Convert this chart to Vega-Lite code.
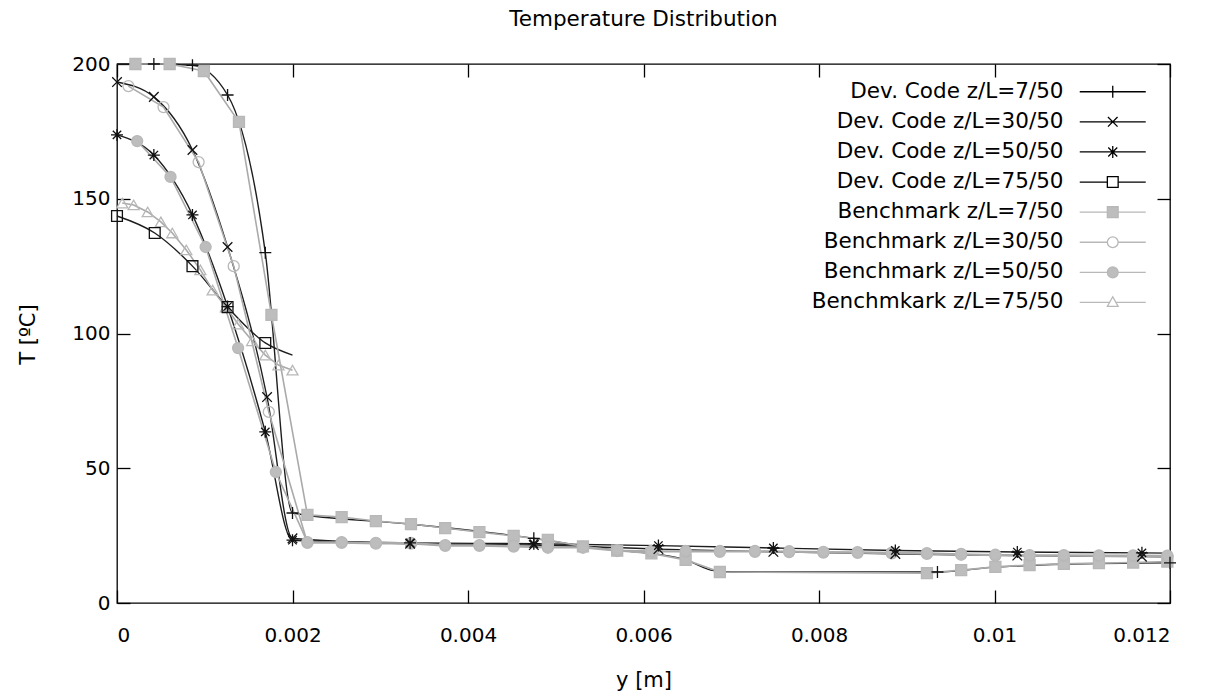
{
  "$schema": "https://vega.github.io/schema/vega-lite/v6.json",
  "width": 1053,
  "height": 539,
  "autosize": "none",
  "padding": {"left": 117, "top": 64, "right": 44, "bottom": 94},
  "background": "white",
  "title": {"text": "Temperature Distribution", "fontSize": 21.5, "font": "DejaVu Sans", "fontWeight": "normal", "anchor": "middle", "frame": "group", "offset": 24, "color": "black"},
  "config": {
    "view": {"stroke": "black", "strokeWidth": 1.3},
    "font": "DejaVu Sans",
    "axis": {"grid": false, "domain": false, "tickColor": "black", "tickSize": -13, "tickWidth": 1.3, "labelFont": "DejaVu Sans", "labelFontSize": 20, "labelColor": "black", "titleFont": "DejaVu Sans", "titleFontSize": 21, "titleFontWeight": "normal", "titleColor": "black"},
    "legend": {"title": null, "orient": "none", "legendX": 985, "legendY": 17, "labelAlign": "right", "labelOffset": -60, "labelFontSize": 21.5, "labelFont": "DejaVu Sans", "labelColor": "black", "labelLimit": 500, "labelBaseline": "middle", "rowPadding": 7.1, "symbolSize": 144, "symbolStrokeWidth": 1.3, "symbolOpacity": 1}
  },
  "datasets": {
    "devCurve": [
      {"series": "Dev. Code z/L=7/50", "ym": 0, "T": 200},
      {"series": "Dev. Code z/L=7/50", "ym": 0.00042, "T": 200},
      {"series": "Dev. Code z/L=7/50", "ym": 0.00086, "T": 199.5},
      {"series": "Dev. Code z/L=7/50", "ym": 0.00126, "T": 188.5},
      {"series": "Dev. Code z/L=7/50", "ym": 0.00169, "T": 130},
      {"series": "Dev. Code z/L=7/50", "ym": 0.002, "T": 33.4},
      {"series": "Dev. Code z/L=7/50", "ym": 0.0033, "T": 29.4},
      {"series": "Dev. Code z/L=7/50", "ym": 0.00475, "T": 24},
      {"series": "Dev. Code z/L=7/50", "ym": 0.00531, "T": 21.2},
      {"series": "Dev. Code z/L=7/50", "ym": 0.0057, "T": 19.6},
      {"series": "Dev. Code z/L=7/50", "ym": 0.00609, "T": 18.4},
      {"series": "Dev. Code z/L=7/50", "ym": 0.00648, "T": 16},
      {"series": "Dev. Code z/L=7/50", "ym": 0.0068, "T": 12},
      {"series": "Dev. Code z/L=7/50", "ym": 0.007, "T": 11.5},
      {"series": "Dev. Code z/L=7/50", "ym": 0.00935, "T": 11.5},
      {"series": "Dev. Code z/L=7/50", "ym": 0.01, "T": 13.3},
      {"series": "Dev. Code z/L=7/50", "ym": 0.0108, "T": 14.4},
      {"series": "Dev. Code z/L=7/50", "ym": 0.012, "T": 14.9},
      {"series": "Dev. Code z/L=30/50", "ym": 0, "T": 193.3},
      {"series": "Dev. Code z/L=30/50", "ym": 0.00042, "T": 187.8},
      {"series": "Dev. Code z/L=30/50", "ym": 0.00086, "T": 168.1},
      {"series": "Dev. Code z/L=30/50", "ym": 0.00126, "T": 132.1},
      {"series": "Dev. Code z/L=30/50", "ym": 0.00171, "T": 76.4},
      {"series": "Dev. Code z/L=30/50", "ym": 0.002, "T": 24},
      {"series": "Dev. Code z/L=30/50", "ym": 0.00334, "T": 22},
      {"series": "Dev. Code z/L=30/50", "ym": 0.00475, "T": 21.5},
      {"series": "Dev. Code z/L=30/50", "ym": 0.00617, "T": 20},
      {"series": "Dev. Code z/L=30/50", "ym": 0.00748, "T": 19},
      {"series": "Dev. Code z/L=30/50", "ym": 0.00887, "T": 18.2},
      {"series": "Dev. Code z/L=30/50", "ym": 0.01026, "T": 17.6},
      {"series": "Dev. Code z/L=30/50", "ym": 0.01168, "T": 17.2},
      {"series": "Dev. Code z/L=30/50", "ym": 0.012, "T": 17.1},
      {"series": "Dev. Code z/L=50/50", "ym": 0, "T": 173.7},
      {"series": "Dev. Code z/L=50/50", "ym": 0.00042, "T": 166.2},
      {"series": "Dev. Code z/L=50/50", "ym": 0.00086, "T": 144},
      {"series": "Dev. Code z/L=50/50", "ym": 0.00126, "T": 110},
      {"series": "Dev. Code z/L=50/50", "ym": 0.00169, "T": 63.5},
      {"series": "Dev. Code z/L=50/50", "ym": 0.002, "T": 23.3},
      {"series": "Dev. Code z/L=50/50", "ym": 0.00334, "T": 22.3},
      {"series": "Dev. Code z/L=50/50", "ym": 0.00475, "T": 22},
      {"series": "Dev. Code z/L=50/50", "ym": 0.00617, "T": 21.3},
      {"series": "Dev. Code z/L=50/50", "ym": 0.00748, "T": 20.4},
      {"series": "Dev. Code z/L=50/50", "ym": 0.00887, "T": 19.5},
      {"series": "Dev. Code z/L=50/50", "ym": 0.01026, "T": 18.9},
      {"series": "Dev. Code z/L=50/50", "ym": 0.01168, "T": 18.6},
      {"series": "Dev. Code z/L=50/50", "ym": 0.012, "T": 18.5},
      {"series": "Dev. Code z/L=75/50", "ym": 0, "T": 143.6},
      {"series": "Dev. Code z/L=75/50", "ym": 0.00043, "T": 137.3},
      {"series": "Dev. Code z/L=75/50", "ym": 0.00086, "T": 125},
      {"series": "Dev. Code z/L=75/50", "ym": 0.00126, "T": 109.8},
      {"series": "Dev. Code z/L=75/50", "ym": 0.00169, "T": 96.5},
      {"series": "Dev. Code z/L=75/50", "ym": 0.002, "T": 92}
    ],
    "devMarks": [
      {"series": "Dev. Code z/L=7/50", "ym": 0.00042, "T": 200},
      {"series": "Dev. Code z/L=7/50", "ym": 0.00086, "T": 199.5},
      {"series": "Dev. Code z/L=7/50", "ym": 0.00126, "T": 188.5},
      {"series": "Dev. Code z/L=7/50", "ym": 0.00169, "T": 130},
      {"series": "Dev. Code z/L=7/50", "ym": 0.002, "T": 33.4},
      {"series": "Dev. Code z/L=7/50", "ym": 0.00475, "T": 24},
      {"series": "Dev. Code z/L=7/50", "ym": 0.00935, "T": 11.5},
      {"series": "Dev. Code z/L=7/50", "ym": 0.012, "T": 14.9},
      {"series": "Dev. Code z/L=30/50", "ym": 0, "T": 193.3},
      {"series": "Dev. Code z/L=30/50", "ym": 0.00042, "T": 187.8},
      {"series": "Dev. Code z/L=30/50", "ym": 0.00086, "T": 168.1},
      {"series": "Dev. Code z/L=30/50", "ym": 0.00126, "T": 132.1},
      {"series": "Dev. Code z/L=30/50", "ym": 0.00171, "T": 76.4},
      {"series": "Dev. Code z/L=30/50", "ym": 0.002, "T": 24},
      {"series": "Dev. Code z/L=30/50", "ym": 0.00334, "T": 22},
      {"series": "Dev. Code z/L=30/50", "ym": 0.00475, "T": 21.5},
      {"series": "Dev. Code z/L=30/50", "ym": 0.00617, "T": 20},
      {"series": "Dev. Code z/L=30/50", "ym": 0.00748, "T": 19},
      {"series": "Dev. Code z/L=30/50", "ym": 0.00887, "T": 18.2},
      {"series": "Dev. Code z/L=30/50", "ym": 0.01026, "T": 17.6},
      {"series": "Dev. Code z/L=30/50", "ym": 0.01168, "T": 17.2},
      {"series": "Dev. Code z/L=50/50", "ym": 0, "T": 173.7},
      {"series": "Dev. Code z/L=50/50", "ym": 0.00042, "T": 166.2},
      {"series": "Dev. Code z/L=50/50", "ym": 0.00086, "T": 144},
      {"series": "Dev. Code z/L=50/50", "ym": 0.00126, "T": 110},
      {"series": "Dev. Code z/L=50/50", "ym": 0.00169, "T": 63.5},
      {"series": "Dev. Code z/L=50/50", "ym": 0.002, "T": 23.3},
      {"series": "Dev. Code z/L=50/50", "ym": 0.00334, "T": 22.3},
      {"series": "Dev. Code z/L=50/50", "ym": 0.00475, "T": 22},
      {"series": "Dev. Code z/L=50/50", "ym": 0.00617, "T": 21.3},
      {"series": "Dev. Code z/L=50/50", "ym": 0.00748, "T": 20.4},
      {"series": "Dev. Code z/L=50/50", "ym": 0.00887, "T": 19.5},
      {"series": "Dev. Code z/L=50/50", "ym": 0.01026, "T": 18.9},
      {"series": "Dev. Code z/L=50/50", "ym": 0.01168, "T": 18.6},
      {"series": "Dev. Code z/L=75/50", "ym": 0, "T": 143.6},
      {"series": "Dev. Code z/L=75/50", "ym": 0.00043, "T": 137.3},
      {"series": "Dev. Code z/L=75/50", "ym": 0.00086, "T": 125},
      {"series": "Dev. Code z/L=75/50", "ym": 0.00126, "T": 109.8},
      {"series": "Dev. Code z/L=75/50", "ym": 0.00169, "T": 96.5}
    ],
    "bench": [
      {"series": "Benchmark z/L=7/50", "ym": 0.00021, "T": 200},
      {"series": "Benchmark z/L=7/50", "ym": 0.0006, "T": 200},
      {"series": "Benchmark z/L=7/50", "ym": 0.00099, "T": 197.4},
      {"series": "Benchmark z/L=7/50", "ym": 0.00139, "T": 178.5},
      {"series": "Benchmark z/L=7/50", "ym": 0.00176, "T": 106.9},
      {"series": "Benchmark z/L=7/50", "ym": 0.00217, "T": 32.7},
      {"series": "Benchmark z/L=7/50", "ym": 0.00256, "T": 31.9},
      {"series": "Benchmark z/L=7/50", "ym": 0.00295, "T": 30.4},
      {"series": "Benchmark z/L=7/50", "ym": 0.00335, "T": 29.3},
      {"series": "Benchmark z/L=7/50", "ym": 0.00374, "T": 27.8},
      {"series": "Benchmark z/L=7/50", "ym": 0.00413, "T": 26.3},
      {"series": "Benchmark z/L=7/50", "ym": 0.00452, "T": 24.9},
      {"series": "Benchmark z/L=7/50", "ym": 0.00491, "T": 23.4},
      {"series": "Benchmark z/L=7/50", "ym": 0.00531, "T": 21},
      {"series": "Benchmark z/L=7/50", "ym": 0.0057, "T": 19.4},
      {"series": "Benchmark z/L=7/50", "ym": 0.00609, "T": 18.4},
      {"series": "Benchmark z/L=7/50", "ym": 0.00648, "T": 16},
      {"series": "Benchmark z/L=7/50", "ym": 0.00687, "T": 11.5},
      {"series": "Benchmark z/L=7/50", "ym": 0.00923, "T": 11.1},
      {"series": "Benchmark z/L=7/50", "ym": 0.00962, "T": 12.2},
      {"series": "Benchmark z/L=7/50", "ym": 0.01001, "T": 13.4},
      {"series": "Benchmark z/L=7/50", "ym": 0.0104, "T": 14.1},
      {"series": "Benchmark z/L=7/50", "ym": 0.01079, "T": 14.5},
      {"series": "Benchmark z/L=7/50", "ym": 0.01119, "T": 14.8},
      {"series": "Benchmark z/L=7/50", "ym": 0.01158, "T": 15},
      {"series": "Benchmark z/L=7/50", "ym": 0.01197, "T": 15.4},
      {"series": "Benchmark z/L=30/50", "ym": 0.00013, "T": 191.8},
      {"series": "Benchmark z/L=30/50", "ym": 0.00053, "T": 184},
      {"series": "Benchmark z/L=30/50", "ym": 0.00093, "T": 163.6},
      {"series": "Benchmark z/L=30/50", "ym": 0.00133, "T": 125},
      {"series": "Benchmark z/L=30/50", "ym": 0.00173, "T": 70.9},
      {"series": "Benchmark z/L=30/50", "ym": 0.00217, "T": 22.3},
      {"series": "Benchmark z/L=30/50", "ym": 0.00256, "T": 22.3},
      {"series": "Benchmark z/L=30/50", "ym": 0.00295, "T": 22},
      {"series": "Benchmark z/L=30/50", "ym": 0.00335, "T": 22},
      {"series": "Benchmark z/L=30/50", "ym": 0.00374, "T": 21.2},
      {"series": "Benchmark z/L=30/50", "ym": 0.00413, "T": 21.2},
      {"series": "Benchmark z/L=30/50", "ym": 0.00452, "T": 20.9},
      {"series": "Benchmark z/L=30/50", "ym": 0.00491, "T": 20.5},
      {"series": "Benchmark z/L=30/50", "ym": 0.00531, "T": 20.5},
      {"series": "Benchmark z/L=30/50", "ym": 0.0057, "T": 19.3},
      {"series": "Benchmark z/L=30/50", "ym": 0.00609, "T": 19},
      {"series": "Benchmark z/L=30/50", "ym": 0.00648, "T": 19},
      {"series": "Benchmark z/L=30/50", "ym": 0.00687, "T": 19},
      {"series": "Benchmark z/L=30/50", "ym": 0.00727, "T": 19},
      {"series": "Benchmark z/L=30/50", "ym": 0.00766, "T": 18.9},
      {"series": "Benchmark z/L=30/50", "ym": 0.00805, "T": 18.7},
      {"series": "Benchmark z/L=30/50", "ym": 0.00844, "T": 18.6},
      {"series": "Benchmark z/L=30/50", "ym": 0.00883, "T": 18.4},
      {"series": "Benchmark z/L=30/50", "ym": 0.00923, "T": 18.2},
      {"series": "Benchmark z/L=30/50", "ym": 0.00962, "T": 17.9},
      {"series": "Benchmark z/L=30/50", "ym": 0.01001, "T": 17.6},
      {"series": "Benchmark z/L=30/50", "ym": 0.0104, "T": 17.5},
      {"series": "Benchmark z/L=30/50", "ym": 0.01079, "T": 17.5},
      {"series": "Benchmark z/L=30/50", "ym": 0.01119, "T": 17.4},
      {"series": "Benchmark z/L=30/50", "ym": 0.01158, "T": 17.4},
      {"series": "Benchmark z/L=30/50", "ym": 0.01197, "T": 17.3},
      {"series": "Benchmark z/L=50/50", "ym": 0.00023, "T": 171.4},
      {"series": "Benchmark z/L=50/50", "ym": 0.00061, "T": 158.1},
      {"series": "Benchmark z/L=50/50", "ym": 0.00101, "T": 132.1},
      {"series": "Benchmark z/L=50/50", "ym": 0.00138, "T": 94.6},
      {"series": "Benchmark z/L=50/50", "ym": 0.00181, "T": 48.6},
      {"series": "Benchmark z/L=50/50", "ym": 0.00217, "T": 22.6},
      {"series": "Benchmark z/L=50/50", "ym": 0.00256, "T": 22.6},
      {"series": "Benchmark z/L=50/50", "ym": 0.00295, "T": 22.3},
      {"series": "Benchmark z/L=50/50", "ym": 0.00335, "T": 22.3},
      {"series": "Benchmark z/L=50/50", "ym": 0.00374, "T": 21.5},
      {"series": "Benchmark z/L=50/50", "ym": 0.00413, "T": 21.5},
      {"series": "Benchmark z/L=50/50", "ym": 0.00452, "T": 21.2},
      {"series": "Benchmark z/L=50/50", "ym": 0.00491, "T": 20.8},
      {"series": "Benchmark z/L=50/50", "ym": 0.00531, "T": 20.8},
      {"series": "Benchmark z/L=50/50", "ym": 0.0057, "T": 19.6},
      {"series": "Benchmark z/L=50/50", "ym": 0.00609, "T": 19.3},
      {"series": "Benchmark z/L=50/50", "ym": 0.00648, "T": 19.3},
      {"series": "Benchmark z/L=50/50", "ym": 0.00687, "T": 19.3},
      {"series": "Benchmark z/L=50/50", "ym": 0.00727, "T": 19.3},
      {"series": "Benchmark z/L=50/50", "ym": 0.00766, "T": 19.2},
      {"series": "Benchmark z/L=50/50", "ym": 0.00805, "T": 19},
      {"series": "Benchmark z/L=50/50", "ym": 0.00844, "T": 18.9},
      {"series": "Benchmark z/L=50/50", "ym": 0.00883, "T": 18.7},
      {"series": "Benchmark z/L=50/50", "ym": 0.00923, "T": 18.5},
      {"series": "Benchmark z/L=50/50", "ym": 0.00962, "T": 18.2},
      {"series": "Benchmark z/L=50/50", "ym": 0.01001, "T": 17.9},
      {"series": "Benchmark z/L=50/50", "ym": 0.0104, "T": 17.8},
      {"series": "Benchmark z/L=50/50", "ym": 0.01079, "T": 17.8},
      {"series": "Benchmark z/L=50/50", "ym": 0.01119, "T": 17.7},
      {"series": "Benchmark z/L=50/50", "ym": 0.01158, "T": 17.7},
      {"series": "Benchmark z/L=50/50", "ym": 0.01197, "T": 17.6},
      {"series": "Benchmkark z/L=75/50", "ym": 0.00006, "T": 148.4},
      {"series": "Benchmkark z/L=75/50", "ym": 0.00019, "T": 147.7},
      {"series": "Benchmkark z/L=75/50", "ym": 0.00035, "T": 145.1},
      {"series": "Benchmkark z/L=75/50", "ym": 0.0005, "T": 141.4},
      {"series": "Benchmkark z/L=75/50", "ym": 0.00063, "T": 137.3},
      {"series": "Benchmkark z/L=75/50", "ym": 0.00079, "T": 131},
      {"series": "Benchmkark z/L=75/50", "ym": 0.00095, "T": 123.6},
      {"series": "Benchmkark z/L=75/50", "ym": 0.00109, "T": 116.1},
      {"series": "Benchmkark z/L=75/50", "ym": 0.00124, "T": 109.8},
      {"series": "Benchmkark z/L=75/50", "ym": 0.00138, "T": 103.5},
      {"series": "Benchmkark z/L=75/50", "ym": 0.00154, "T": 97.3},
      {"series": "Benchmkark z/L=75/50", "ym": 0.00169, "T": 92},
      {"series": "Benchmkark z/L=75/50", "ym": 0.00184, "T": 88.3},
      {"series": "Benchmkark z/L=75/50", "ym": 0.002, "T": 86.4}
    ],
    "keys": [
      {"series": "Dev. Code z/L=7/50"},
      {"series": "Dev. Code z/L=30/50"},
      {"series": "Dev. Code z/L=50/50"},
      {"series": "Dev. Code z/L=75/50"},
      {"series": "Benchmark z/L=7/50"},
      {"series": "Benchmark z/L=30/50"},
      {"series": "Benchmark z/L=50/50"},
      {"series": "Benchmkark z/L=75/50"}
    ]
  },
  "resolve": {"axis": {"x": "independent", "y": "independent"}, "scale": {"shape": "independent", "fill": "independent", "stroke": "independent"}},
  "layer": [
    {
      "data": {"name": "devCurve"},
      "mark": {"type": "line", "interpolate": "monotone", "color": "#1e1e1e", "strokeWidth": 1.4},
      "encoding": {
        "x": {"field": "ym", "type": "quantitative", "scale": {"domain": [0, 0.012], "nice": false, "zero": false},
              "axis": {"orient": "bottom", "values": [0, 0.002, 0.004, 0.006, 0.008, 0.01, 0.012], "format": "~g", "labelPadding": 35, "title": "y [m]", "titleY": 77, "titleBaseline": "middle"}},
        "y": {"field": "T", "type": "quantitative", "scale": {"domain": [0, 200], "nice": false, "zero": false},
              "axis": {"orient": "left", "values": [0, 50, 100, 150, 200], "labelPadding": 20, "title": "T [ºC]", "titleX": -89, "titleY": 270, "titleAngle": -90, "titleAlign": "center", "titleBaseline": "middle"}},
        "detail": {"field": "series", "type": "nominal"}
      }
    },
    {
      "data": {"name": "bench"},
      "mark": {"type": "line", "color": "#aaaaaa", "strokeWidth": 1.6},
      "encoding": {
        "x": {"field": "ym", "type": "quantitative", "scale": {"domain": [0, 0.012], "nice": false, "zero": false},
              "axis": {"orient": "top", "values": [0, 0.002, 0.004, 0.006, 0.008, 0.01, 0.012], "labels": false, "title": null}},
        "y": {"field": "T", "type": "quantitative", "scale": {"domain": [0, 200], "nice": false, "zero": false},
              "axis": {"orient": "right", "values": [0, 50, 100, 150, 200], "labels": false, "title": null}},
        "detail": {"field": "series", "type": "nominal"}
      }
    },
    {
      "data": {"name": "bench"},
      "mark": {"type": "point", "stroke": "#b8b8b8", "strokeWidth": 1.3, "size": 121, "opacity": 1},
      "encoding": {
        "x": {"field": "ym", "type": "quantitative", "axis": null},
        "y": {"field": "T", "type": "quantitative", "axis": null},
        "shape": {"field": "series", "type": "nominal",
                  "scale": {"domain": ["Benchmark z/L=7/50", "Benchmark z/L=30/50", "Benchmark z/L=50/50", "Benchmkark z/L=75/50"], "range": ["square", "circle", "circle", "triangle-up"]},
                  "legend": null},
        "fill": {"field": "series", "type": "nominal",
                 "scale": {"domain": ["Benchmark z/L=7/50", "Benchmark z/L=30/50", "Benchmark z/L=50/50", "Benchmkark z/L=75/50"], "range": ["#bdbdbd", "transparent", "#bdbdbd", "transparent"]},
                 "legend": null}
      }
    },
    {
      "data": {"name": "devMarks"},
      "mark": {"type": "point", "stroke": "#111111", "fill": "transparent", "strokeWidth": 1.3, "size": 144, "opacity": 1},
      "encoding": {
        "x": {"field": "ym", "type": "quantitative", "axis": null},
        "y": {"field": "T", "type": "quantitative", "axis": null},
        "shape": {"field": "series", "type": "nominal",
                  "scale": {"domain": ["Dev. Code z/L=7/50", "Dev. Code z/L=30/50", "Dev. Code z/L=50/50", "Dev. Code z/L=75/50"],
                            "range": ["M-1,0H1M0,-1V1", "M-0.8,-0.8L0.8,0.8M-0.8,0.8L0.8,-0.8", "M-1,0H1M0,-1V1M-0.7,-0.7L0.7,0.7M-0.7,0.7L0.7,-0.7", "M-0.9,-0.9H0.9V0.9H-0.9Z"]},
                  "legend": null}
      }
    },
    {
      "data": {"name": "keys"},
      "mark": {"type": "point", "opacity": 0, "strokeWidth": 1.3},
      "encoding": {
        "shape": {"field": "series", "type": "nominal",
                  "scale": {"domain": ["Dev. Code z/L=7/50", "Dev. Code z/L=30/50", "Dev. Code z/L=50/50", "Dev. Code z/L=75/50", "Benchmark z/L=7/50", "Benchmark z/L=30/50", "Benchmark z/L=50/50", "Benchmkark z/L=75/50"],
                            "range": ["M-5.5,0H5.5M0,-1V1", "M-5.5,0H5.5M-0.8,-0.8L0.8,0.8M-0.8,0.8L0.8,-0.8", "M-5.5,0H5.5M0,-1V1M-0.75,-0.75L0.75,0.75M-0.75,0.75L0.75,-0.75", "M-5.5,0H-0.9M0.9,0H5.5M-0.9,-0.9H0.9V0.9H-0.9Z", "M-5.5,0H-0.9M0.9,0H5.5M-0.9,-0.9H0.9V0.9H-0.9Z", "M-5.5,0H-0.9M0.9,0H5.5M-0.9,0A0.9,0.9,0,1,1,0.9,0A0.9,0.9,0,1,1,-0.9,0Z", "M-5.5,0H-0.9M0.9,0H5.5M-0.9,0A0.9,0.9,0,1,1,0.9,0A0.9,0.9,0,1,1,-0.9,0Z", "M-5.5,0H-0.6M0.6,0H5.5M0,-0.95L0.9,0.65H-0.9Z"]},
                  "legend": {"title": null}},
        "stroke": {"field": "series", "type": "nominal",
                   "scale": {"domain": ["Dev. Code z/L=7/50", "Dev. Code z/L=30/50", "Dev. Code z/L=50/50", "Dev. Code z/L=75/50", "Benchmark z/L=7/50", "Benchmark z/L=30/50", "Benchmark z/L=50/50", "Benchmkark z/L=75/50"],
                             "range": ["#000000", "#000000", "#000000", "#000000", "#b8b8b8", "#b8b8b8", "#b8b8b8", "#b8b8b8"]},
                   "legend": {"title": null}},
        "fill": {"field": "series", "type": "nominal",
                 "scale": {"domain": ["Dev. Code z/L=7/50", "Dev. Code z/L=30/50", "Dev. Code z/L=50/50", "Dev. Code z/L=75/50", "Benchmark z/L=7/50", "Benchmark z/L=30/50", "Benchmark z/L=50/50", "Benchmkark z/L=75/50"],
                           "range": ["transparent", "transparent", "transparent", "transparent", "#bdbdbd", "transparent", "#bdbdbd", "transparent"]},
                 "legend": {"title": null}}
      }
    }
  ]
}
